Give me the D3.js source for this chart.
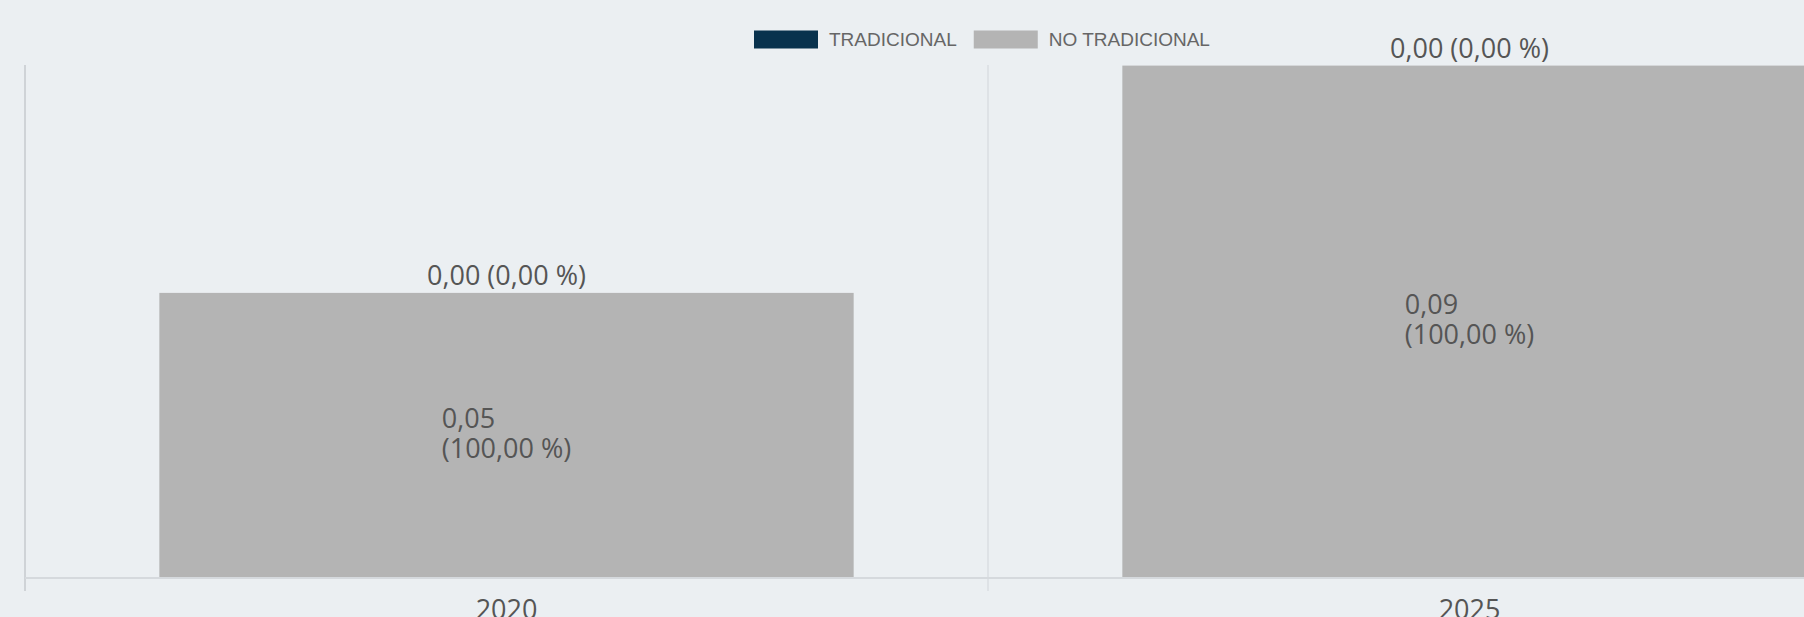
<!DOCTYPE html>
<html>
<head>
<meta charset="utf-8">
<script src="https://cdn.jsdelivr.net/npm/d3@7.9.0/dist/d3.min.js"></script>
<style>
  html, body { margin: 0; padding: 0; background: #ebeff2; overflow: hidden; }
  svg { display: block; }
  .val { font-family: "Open Sans", sans-serif; font-size: 27px; fill: #555; }
  .leg { font-family: "Liberation Sans", Arial, sans-serif; font-size: 19px; fill: #666; }
</style>
</head>
<body>
<svg id="chart" width="1804" height="617"></svg>
<script>
const years = ['2020', '2025'];
const tradicional = [0, 0];
const noTradicional = [0.05, 0.09];
const seriesNames = ['TRADICIONAL', 'NO TRADICIONAL'];
const seriesColors = ['#08324d', '#b4b4b4'];

const width = 1804, height = 617;
const svg = d3.select('#chart');

const es = d3.formatLocale({ decimal: ',', thousands: '.', grouping: [3], currency: ['', ' €'] });
const f2 = es.format('.2f');

// stacked rows
let rows = years.map((y, i) => ({ year: y, t: tradicional[i], n: noTradicional[i] }));
let stack = d3.stack().keys(['n', 't'])(rows);

let x = d3.scaleBand()
  .domain(years)
  .range([25, 1951])
  .paddingInner(0.279)
  .paddingOuter(0.1395);

let y = d3.scaleLinear()
  .domain([0, 0.09])
  .range([577, 65.6]);

// separators / y axis line
let step = x.step();
years.forEach((yr, i) => {
  let sx = x(yr) - x.paddingOuter() * step;
  svg.append('line')
    .attr('x1', sx).attr('x2', sx)
    .attr('y1', 65).attr('y2', 591)
    .attr('stroke', i === 0 ? '#cfd3d7' : '#dadee2')
    .attr('stroke-width', i === 0 ? 2 : 1.5);
});

// bars
let colorOf = { n: seriesColors[1], t: seriesColors[0] };
stack.forEach(layer => {
  svg.append('g').selectAll('rect')
    .data(layer)
    .join('rect')
    .attr('x', d => x(d.data.year))
    .attr('width', x.bandwidth())
    .attr('y', d => y(d[1]))
    .attr('height', d => y(d[0]) - y(d[1]))
    .attr('fill', colorOf[layer.key]);
});

// x axis baseline
svg.append('line')
  .attr('x1', 25).attr('x2', width)
  .attr('y1', y(0) + 1).attr('y2', y(0) + 1)
  .attr('stroke', '#d5d9dd').attr('stroke-width', 2);

// category labels
let axis = svg.append('g')
  .attr('transform', `translate(0,${y(0)})`)
  .call(d3.axisBottom(x).tickSize(0).tickPadding(0));
axis.select('.domain').remove();
axis.selectAll('text')
  .attr('class', 'val')
  .attr('y', 42)
  .attr('dy', null)
  .style('font-size', '27px')
  .attr('font-family', null)
  .attr('fill', '#555');

// value labels
rows.forEach(r => {
  let total = r.t + r.n;
  let cx = x(r.year) + x.bandwidth() / 2;
  // tradicional (zero) label on top
  svg.append('text')
    .attr('class', 'val')
    .attr('x', cx)
    .attr('y', y(total) - 8)
    .attr('text-anchor', 'middle')
    .text(`${f2(r.t)} (${f2(total ? r.t / total * 100 : 0)} %)`);

  // no tradicional label inside, two lines, left aligned block
  let mid = (y(0) + y(r.n)) / 2;
  let t = svg.append('text').attr('class', 'val');
  let l1 = t.append('tspan').attr('y', mid - 7).text(f2(r.n));
  let l2 = t.append('tspan').attr('y', mid + 23).text(`(${f2(r.n / total * 100)} %)`);
  let w = Math.max(l1.node().getComputedTextLength(), l2.node().getComputedTextLength());
  l1.attr('x', cx - w / 2);
  l2.attr('x', cx - w / 2);
});

// legend
let lg = svg.append('g').attr('transform', 'translate(754,0)');
let lx = 0;
seriesNames.forEach((name, i) => {
  lg.append('rect')
    .attr('x', lx).attr('y', 30.5)
    .attr('width', 64).attr('height', 18)
    .attr('fill', seriesColors[i]);
  let txt = lg.append('text')
    .attr('class', 'leg')
    .attr('x', lx + 75).attr('y', 45.5)
    .text(name);
  lx += 75 + txt.node().getComputedTextLength() + 17;
});
</script>
</body>
</html>
